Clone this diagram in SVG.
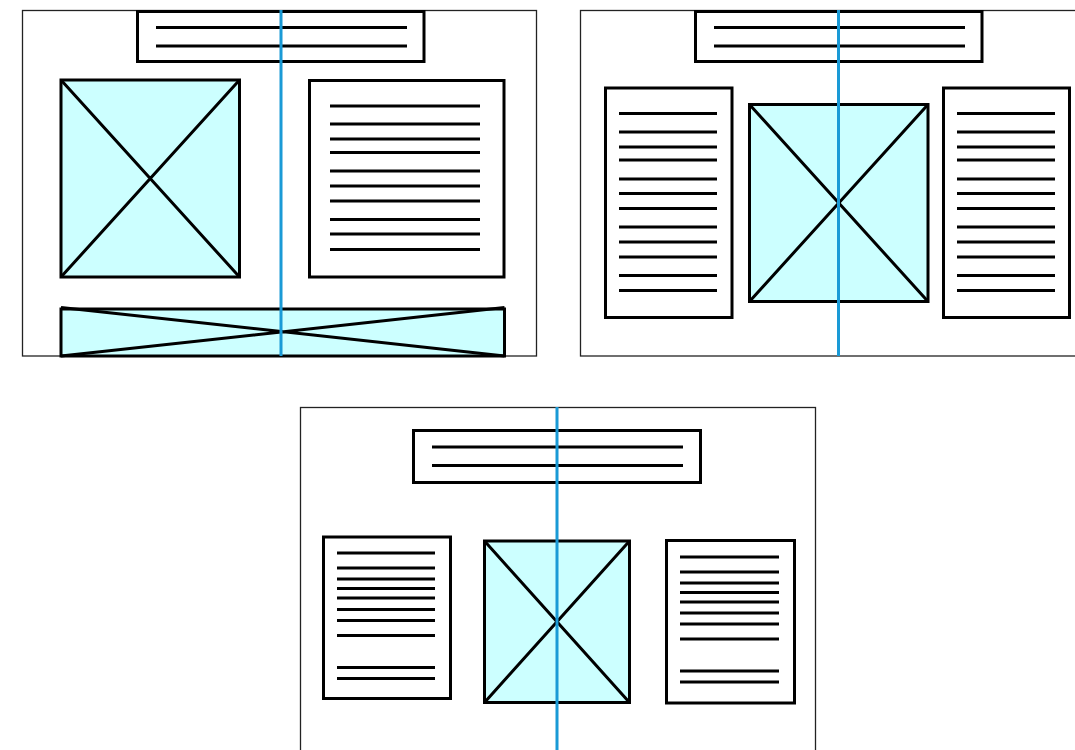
<svg xmlns="http://www.w3.org/2000/svg" width="1075" height="750" viewBox="0 0 1075 750">
<style>
.frame{fill:#fff;stroke:#222;stroke-width:1.3}
.box{fill:#fff;stroke:#000;stroke-width:3}
.img{fill:#ccffff;stroke:#000;stroke-width:3}
.ln{stroke:#000;stroke-width:3}
.x{stroke:#000;stroke-width:3;fill:none}
.axis{stroke:#1a9ad6;stroke-width:3}
</style>
<rect width="1075" height="750" fill="#fff"/>

<g id="panel1">
  <rect class="frame" x="22.5" y="10.5" width="514" height="345.5"/>
  <g id="p1-header">
    <rect class="box" x="137.5" y="11.5" width="286.5" height="50"/>
    <line class="ln" x1="156" y1="27.5" x2="407" y2="27.5"/>
    <line class="ln" x1="156" y1="46" x2="407" y2="46"/>
  </g>
  <g id="p1-image">
    <rect class="img" x="61" y="80" width="178.5" height="197"/>
    <path class="x" d="M61 80L239.5 277M239.5 80L61 277"/>
  </g>
  <g id="p1-text">
    <rect class="box" x="309.5" y="80.5" width="194.5" height="196.5"/>
    <g class="ln">
      <line x1="330" y1="106" x2="480" y2="106"/>
      <line x1="330" y1="124" x2="480" y2="124"/>
      <line x1="330" y1="139" x2="480" y2="139"/>
      <line x1="330" y1="152.5" x2="480" y2="152.5"/>
      <line x1="330" y1="171" x2="480" y2="171"/>
      <line x1="330" y1="186" x2="480" y2="186"/>
      <line x1="330" y1="201" x2="480" y2="201"/>
      <line x1="330" y1="219.5" x2="480" y2="219.5"/>
      <line x1="330" y1="234" x2="480" y2="234"/>
      <line x1="330" y1="249.5" x2="480" y2="249.5"/>
    </g>
  </g>
  <g id="p1-banner">
    <rect class="img" x="61" y="309" width="443.5" height="47"/>
    <path class="x" d="M61 307.5L504.5 356M61 356L504.5 307.5"/>
  </g>
  <line class="axis" x1="281" y1="10" x2="281" y2="356"/>
</g>

<g id="panel2">
  <rect class="frame" x="580.5" y="10.5" width="500" height="345.5"/>
  <g id="p2-header">
    <rect class="box" x="695.5" y="11.5" width="286.5" height="50"/>
    <line class="ln" x1="714" y1="27.5" x2="965" y2="27.5"/>
    <line class="ln" x1="714" y1="46" x2="965" y2="46"/>
  </g>
  <g id="p2-text-left">
    <rect class="box" x="605.5" y="88" width="126.5" height="229.5"/>
    <g class="ln">
      <line x1="619" y1="113.5" x2="717" y2="113.5"/>
      <line x1="619" y1="132" x2="717" y2="132"/>
      <line x1="619" y1="147" x2="717" y2="147"/>
      <line x1="619" y1="160" x2="717" y2="160"/>
      <line x1="619" y1="179" x2="717" y2="179"/>
      <line x1="619" y1="193.5" x2="717" y2="193.5"/>
      <line x1="619" y1="208.5" x2="717" y2="208.5"/>
      <line x1="619" y1="227" x2="717" y2="227"/>
      <line x1="619" y1="242" x2="717" y2="242"/>
      <line x1="619" y1="257" x2="717" y2="257"/>
      <line x1="619" y1="275.5" x2="717" y2="275.5"/>
      <line x1="619" y1="290.5" x2="717" y2="290.5"/>
    </g>
  </g>
  <g id="p2-image">
    <rect class="img" x="749.5" y="104.5" width="178.5" height="197"/>
    <path class="x" d="M749.5 104.5L928 301.5M928 104.5L749.5 301.5"/>
  </g>
  <g id="p2-text-right">
    <rect class="box" x="943.5" y="88" width="126" height="229.5"/>
    <g class="ln">
      <line x1="957" y1="113.5" x2="1055" y2="113.5"/>
      <line x1="957" y1="132" x2="1055" y2="132"/>
      <line x1="957" y1="147" x2="1055" y2="147"/>
      <line x1="957" y1="160" x2="1055" y2="160"/>
      <line x1="957" y1="179" x2="1055" y2="179"/>
      <line x1="957" y1="193.5" x2="1055" y2="193.5"/>
      <line x1="957" y1="208.5" x2="1055" y2="208.5"/>
      <line x1="957" y1="227" x2="1055" y2="227"/>
      <line x1="957" y1="242" x2="1055" y2="242"/>
      <line x1="957" y1="257" x2="1055" y2="257"/>
      <line x1="957" y1="275.5" x2="1055" y2="275.5"/>
      <line x1="957" y1="290.5" x2="1055" y2="290.5"/>
    </g>
  </g>
  <line class="axis" x1="838.5" y1="10" x2="838.5" y2="356"/>
</g>

<g id="panel3">
  <rect class="frame" x="300.5" y="407.5" width="515" height="350"/>
  <g id="p3-header">
    <rect class="box" x="413.5" y="430.5" width="287" height="52"/>
    <line class="ln" x1="432" y1="447" x2="683" y2="447"/>
    <line class="ln" x1="432" y1="465.5" x2="683" y2="465.5"/>
  </g>
  <g id="p3-text-left">
    <rect class="box" x="323.5" y="537" width="127" height="161.5"/>
    <g class="ln">
      <line x1="337" y1="553" x2="435" y2="553"/>
      <line x1="337" y1="568" x2="435" y2="568"/>
      <line x1="337" y1="579" x2="435" y2="579"/>
      <line x1="337" y1="588.5" x2="435" y2="588.5"/>
      <line x1="337" y1="598" x2="435" y2="598"/>
      <line x1="337" y1="609.5" x2="435" y2="609.5"/>
      <line x1="337" y1="620.5" x2="435" y2="620.5"/>
      <line x1="337" y1="635.5" x2="435" y2="635.5"/>
      <line x1="337" y1="667.5" x2="435" y2="667.5"/>
      <line x1="337" y1="678.5" x2="435" y2="678.5"/>
    </g>
  </g>
  <g id="p3-image">
    <rect class="img" x="484.5" y="541" width="145" height="161.5"/>
    <path class="x" d="M484.5 541L629.5 702.5M629.5 541L484.5 702.5"/>
  </g>
  <g id="p3-text-right">
    <rect class="box" x="666.5" y="540.5" width="128" height="162.5"/>
    <g class="ln">
      <line x1="680" y1="557" x2="779" y2="557"/>
      <line x1="680" y1="572" x2="779" y2="572"/>
      <line x1="680" y1="583" x2="779" y2="583"/>
      <line x1="680" y1="592.5" x2="779" y2="592.5"/>
      <line x1="680" y1="602" x2="779" y2="602"/>
      <line x1="680" y1="613" x2="779" y2="613"/>
      <line x1="680" y1="624" x2="779" y2="624"/>
      <line x1="680" y1="639" x2="779" y2="639"/>
      <line x1="680" y1="671" x2="779" y2="671"/>
      <line x1="680" y1="682" x2="779" y2="682"/>
    </g>
  </g>
  <line class="axis" x1="557" y1="407" x2="557" y2="750"/>
</g>
</svg>
